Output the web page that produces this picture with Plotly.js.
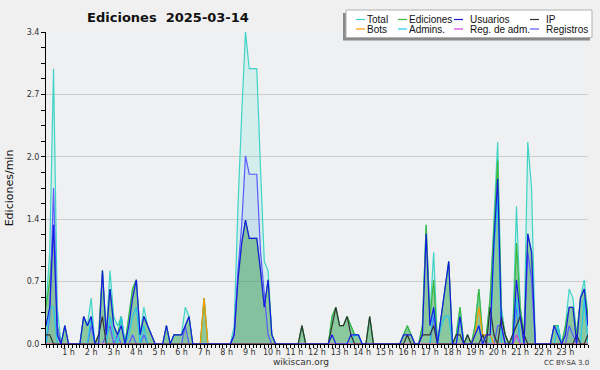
<!DOCTYPE html>
<html>
<head>
<meta charset="utf-8">
<script src="https://cdn.plot.ly/plotly-3.0.1.min.js"></script>
<style>html,body{margin:0;padding:0;background:#f0f0f0;}#chart{width:600px;height:370px;}</style>
</head>
<body>
<div id="chart"></div>
<script>
// 10-minute bins, values in edits per minute (bin 0 = 00:00 ... bin 144 = 24:00)
const hourLabels = ["1 h","2 h","3 h","4 h","5 h","6 h","7 h","8 h","9 h","10 h","11 h","12 h","13 h","14 h","15 h","16 h","17 h","18 h","19 h","20 h","21 h","22 h","23 h"];
const yTickText = ["0.0","0.7","1.4","2.0","2.7","3.4"];
const seriesNames = ["Total","Ediciones","Usuarios","IP","Bots","Admins.","Reg. de adm.","Registros"];

const total = [
 .4,1.0,3.0,.4,0,.2,  0,0,0,0,.3,.2,  .5,0,.1,.8,.1,.8,  .3,.2,.3,0,.3,.6,
 .7,.1,.4,.2,.1,0,  0,0,.2,0,.1,.1,  .1,.4,.3,0,0,0,  .5,0,0,0,0,0,
 0,0,.2,1.5,2.5,3.4,  3.0,3.0,3.0,1.9,.9,.8,  .1,0,0,0,0,0,  0,0,.2,0,0,0,
 0,0,0,0,.3,.4,  .2,.2,.3,.2,.1,.1,  0,0,.3,0,0,0,  0,0,0,0,0,.1,
 .2,.1,0,0,.2,1.3,  .3,1.0,0,.3,.6,.9,  0,.1,.4,0,.1,0,  .2,.6,.1,.1,.5,1.3,
 2.2,.4,.1,0,.1,1.5,  .4,.1,2.2,1.7,0,0,  0,0,0,.2,.2,0,  .2,.6,.5,.1,.5,.7,
 .3];
const ediciones = [
 .4,.7,1.3,.2,0,.2,  0,0,0,0,.3,.2,  .3,0,.1,.8,.1,.6,  .2,.1,.3,0,.3,.6,
 .7,.1,.3,.2,.1,0,  0,0,.2,0,.1,.1,  .1,.2,.3,0,0,0,  .5,0,0,0,0,0,
 0,0,.1,.7,1.1,1.35,  1.15,1.15,1.15,.8,.4,.7,  .1,0,0,0,0,0,  0,0,.2,0,0,0,
 0,0,0,0,.3,.4,  .2,.2,.3,.2,.1,.1,  0,0,.3,0,0,0,  0,0,0,0,0,.1,
 .2,.1,0,0,.2,1.3,  .3,.7,0,.3,.6,.9,  0,.1,.4,0,.1,0,  .2,.6,.1,.1,.5,1.2,
 2.0,.3,.1,0,.1,1.1,  .4,.1,1.2,1.0,0,0,  0,0,0,.2,.2,0,  .2,.4,.4,.1,.5,.6,
 .3];
const usuarios = [
 .2,.4,1.3,.1,0,.2,  0,0,0,0,.3,.2,  .3,0,0,.8,.1,.6,  .2,.1,.2,0,.2,.5,
 .7,.1,.3,.2,.1,0,  0,0,.2,0,.1,.1,  .1,.2,.3,0,0,0,  0,0,0,0,0,0,
 0,0,.1,.7,1.1,1.35,  1.15,1.15,1.15,.8,.4,.7,  .1,0,0,0,0,0,  0,0,0,0,0,0,
 0,0,0,0,.1,0,  0,0,0,.1,.1,.1,  0,0,0,0,0,0,  0,0,0,0,0,.1,
 .1,.1,0,0,.1,1.2,  .2,.4,0,.3,.6,.9,  0,0,.3,0,0,0,  .1,.2,0,.1,.1,1.1,
 1.8,.2,0,0,0,.7,  .3,0,1.2,1.0,0,0,  0,0,0,.2,.1,0,  .1,.4,.4,0,.5,.6,
 .2];
const ip = [
 .1,.1,0,0,0,0,  0,0,0,0,0,0,  0,0,.1,.3,0,0,  0,0,0,0,0,0,
 0,0,0,0,0,0,  0,0,0,0,0,0,  0,0,0,0,0,0,  0,0,0,0,0,0,
 0,0,0,0,0,0,  0,0,0,0,0,0,  0,0,0,0,0,0,  0,0,.2,0,0,0,
 0,0,0,0,.2,.4,  .2,.2,.3,.1,0,0,  0,0,.3,0,0,0,  0,0,0,0,0,0,
 .1,0,0,0,.1,.1,  .1,.2,0,0,0,0,  0,.1,.1,0,.1,0,  0,0,.1,0,.4,.1,
 0,.3,.1,0,.1,.2,  .3,.1,0,0,0,0,  0,0,0,0,0,0,  0,0,0,.1,0,0,
 .1];
const bots = [
 0,0,0,0,0,0,  0,0,0,0,0,0,  0,0,0,0,0,0,  0,0,0,0,0,0,
 0,0,0,0,0,0,  0,0,0,0,0,0,  0,0,0,0,0,0,  .5,0,0,0,0,0,
 0,0,0,0,0,0,  0,0,0,0,0,0,  0,0,0,0,0,0,  0,0,0,0,0,0,
 0,0,0,0,0,0,  0,0,0,0,0,0,  0,0,0,0,0,0,  0,0,0,0,0,0,
 0,0,0,0,0,0,  0,0,0,0,0,0,  0,0,0,0,0,0,  .1,.4,.1,.1,.1,0,
 0,0,0,0,0,0,  0,0,0,0,0,0,  0,0,0,0,0,0,  0,0,0,0,0,0,
 0];
const admins = [
 0,.4,.4,0,0,0,  0,0,0,0,0,0,  .3,0,0,0,0,.3,  .1,0,.3,0,.1,.3,
 .4,0,.2,0,0,0,  0,0,0,0,0,0,  0,0,0,0,0,0,  0,0,0,0,0,0,
 0,0,0,0,0,0,  0,0,0,0,0,0,  0,0,0,0,0,0,  0,0,0,0,0,0,
 0,0,0,0,0,0,  0,0,0,0,.1,.1,  0,0,0,0,0,0,  0,0,0,0,0,0,
 0,0,0,0,0,0,  0,.4,0,.2,.3,.3,  0,0,.3,0,0,0,  .1,.2,0,0,0,1.0,
 1.6,0,0,0,0,.5,  0,0,0,0,0,0,  0,0,0,0,.2,0,  0,0,0,0,0,.5,
 0];
const regAdm = [
 0,0,0,0,0,0,  0,0,0,0,0,0,  0,0,0,0,0,0,  0,0,0,0,0,0,
 0,0,0,0,0,0,  0,0,0,0,0,0,  0,0,0,0,0,0,  0,0,0,0,0,0,
 0,0,0,0,0,0,  0,0,0,0,0,0,  0,0,0,0,0,0,  0,0,0,0,0,0,
 0,0,0,0,0,0,  0,0,0,0,0,0,  0,0,0,0,0,0,  0,0,0,0,0,0,
 0,0,0,0,0,0,  0,0,0,0,0,0,  0,0,0,0,0,0,  0,0,0,0,0,0,
 0,0,0,0,0,.1,  0,0,0,0,0,0,  0,0,0,0,0,0,  0,0,0,0,0,0,
 0];
const registros = [
 0,.3,1.7,.2,0,0,  0,0,0,0,0,0,  .2,0,0,0,.1,.2,  0,.1,0,0,0,.1,
 0,0,.1,0,0,0,  0,0,0,0,0,0,  0,.2,0,0,0,0,  0,0,0,0,0,0,
 0,0,.1,.8,1.3,2.05,  1.85,1.85,1.85,1.0,.5,.1,  0,0,0,0,0,0,  0,0,0,0,0,0,
 0,0,0,0,0,0,  0,0,0,0,0,0,  0,0,0,0,0,0,  0,0,0,0,0,0,
 0,0,0,0,0,0,  0,.3,0,0,0,0,  0,0,0,0,0,0,  0,0,0,0,0,0,
 .2,.2,0,0,0,.4,  0,0,1.0,.7,0,0,  0,0,0,0,0,0,  0,.2,.1,0,0,0,
 0];

const xHours = total.map((_, i) => i / 6);
const colors = {
  "Total": "#3fd4c6", "Ediciones": "#3cb83c", "Usuarios": "#1818e8", "IP": "#333333",
  "Bots": "#ff9900", "Admins.": "#22c8ee", "Reg. de adm.": "#d040e0", "Registros": "#5a5aff"
};
const seriesData = {
  "Total": total, "Ediciones": ediciones, "Usuarios": usuarios, "IP": ip,
  "Bots": bots, "Admins.": admins, "Reg. de adm.": regAdm, "Registros": registros
};

function fillTrace(y, color) {
  return {x: xHours, y: y, type: "scatter", mode: "lines", fill: "tozeroy",
    fillcolor: color, line: {width: 0}, hoverinfo: "skip", showlegend: false};
}
function lineTrace(name) {
  return {x: xHours, y: seriesData[name], type: "scatter", mode: "lines", name: name,
    line: {color: colors[name], width: 1.2}, showlegend: false};
}
const traces = [
  fillTrace(total, "rgba(64,224,208,0.15)"),
  fillTrace(registros, "rgba(85,85,255,0.09)"),
  fillTrace(ediciones, "rgba(40,150,50,0.42)"),
  lineTrace("Total"), lineTrace("Ediciones"), lineTrace("Registros"), lineTrace("Admins."),
  lineTrace("Bots"), lineTrace("Reg. de adm."), lineTrace("IP"), lineTrace("Usuarios")
];

// pixel -> paper helpers (plot area: x 46..588, y 32..344)
const PL = 46, PW = 542, PB = 344, PH = 312;
const px = v => (v - PL) / PW;
const py = v => (PB - v) / PH;

const shapes = [
  {type: "rect", xref: "paper", yref: "paper", x0: px(343), x1: px(590), y0: py(13), y1: py(40.5),
   fillcolor: "#8a8a8a", line: {width: 0}},
  {type: "rect", xref: "paper", yref: "paper", x0: px(346), x1: px(592), y0: py(10), y1: py(37.5),
   fillcolor: "#ffffff", line: {color: "#b0b0b0", width: 1}}
];
const annotations = [];
const colX = [[356, 366], [398, 408], [454, 469], [530, 545]];
const rowY = [19.5, 29];
seriesNames.forEach((name, k) => {
  const r = Math.floor(k / 4), c = k % 4;
  shapes.push({type: "line", xref: "paper", yref: "paper",
    x0: px(colX[c][0]), x1: px(colX[c][0] + 9), y0: py(rowY[r]), y1: py(rowY[r]),
    line: {color: colors[name], width: 1.2}});
  annotations.push({xref: "paper", yref: "paper", x: px(colX[c][1] - 1), y: py(rowY[r]),
    xanchor: "left", yanchor: "middle", showarrow: false, text: name,
    font: {family: "Liberation Sans, Arial, sans-serif", size: 10, color: "#111"}});
});
annotations.push({xref: "paper", yref: "paper", x: px(301), y: py(362), xanchor: "center", yanchor: "middle",
  showarrow: false, text: "wikiscan.org", font: {family: "DejaVu Sans, sans-serif", size: 9, color: "#333"}});
annotations.push({xref: "paper", yref: "paper", x: px(591), y: py(362.5), xanchor: "right", yanchor: "middle",
  showarrow: false, text: "CC BY-SA 3.0", font: {family: "DejaVu Sans, sans-serif", size: 7, color: "#333"}});

const yTickVals = yTickText.map((_, k) => k * 0.68);
const xMinorVals = total.map((_, i) => i / 6);

const layout = {
  width: 600, height: 370,
  margin: {l: 46, r: 12, t: 32, b: 26},
  paper_bgcolor: "#f0f0f0", plot_bgcolor: "#eef0f2",
  showlegend: false,
  title: {text: "Ediciones \u00a02025-03-14", x: 168 / 600, xanchor: "center", y: 1 - 17 / 370, yanchor: "middle",
    font: {family: "DejaVu Sans, sans-serif", size: 13, color: "#111", weight: "bold"}},
  xaxis: {range: [0, 24], showgrid: false, zeroline: false, showline: true, linecolor: "#000", linewidth: 1,
    ticks: "outside", ticklen: 3, tickcolor: "#000", tickwidth: 1, ticklabelstandoff: -3,
    tickmode: "array", tickvals: hourLabels.map((_, k) => k + 1), ticktext: hourLabels,
    tickfont: {family: "DejaVu Sans, sans-serif", size: 8, color: "#333"},
    minor: {tickmode: "array", tickvals: xMinorVals, ticks: "outside", ticklen: 3, tickcolor: "#000", tickwidth: 1, showgrid: false},
    fixedrange: true},
  yaxis: {range: [0, 3.4], showgrid: true, gridcolor: "#cccccc", gridwidth: 1, zeroline: false,
    showline: true, linecolor: "#000", linewidth: 1,
    ticks: "outside", ticklen: 4, tickcolor: "#000", tickwidth: 1,
    tickmode: "array", tickvals: yTickVals, ticktext: yTickText,
    tickfont: {family: "DejaVu Sans, sans-serif", size: 8, color: "#333"},
    minor: {dtick: 0.17, tick0: 0, ticks: "outside", ticklen: 4, tickcolor: "#000", tickwidth: 1, showgrid: false},
    title: {text: "Ediciones/min", standoff: 10, font: {family: "DejaVu Sans, sans-serif", size: 11, color: "#111"}},
    fixedrange: true},
  shapes: shapes,
  annotations: annotations
};

Plotly.newPlot("chart", traces, layout, {staticPlot: true, displayModeBar: false});
</script>
</body>
</html>
